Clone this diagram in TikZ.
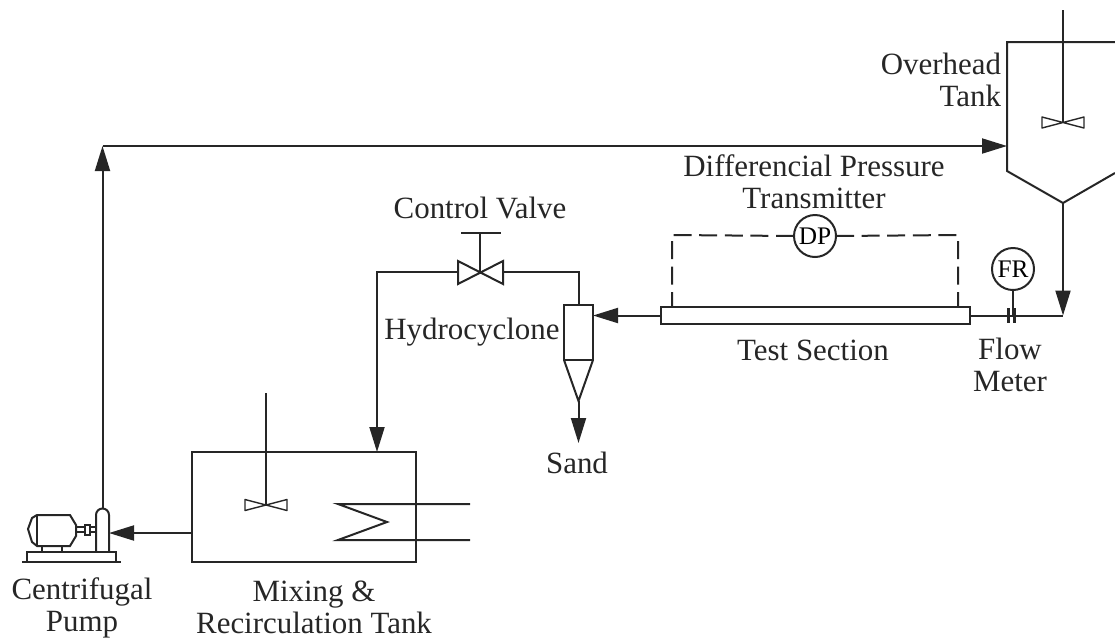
\documentclass[tikz,border=0pt]{standalone}
\usepackage{fontspec}
\setmainfont{Liberation Serif}
\usetikzlibrary{arrows.meta}
\tikzset{
  labeltext/.style={font=\fontsize{22}{22.7}\selectfont, text=black!85, align=center, inner sep=0pt},
  vessel/.style={draw, fill=white, inner sep=0pt, outer sep=0pt},
  instrument/.style={draw, circle, fill=white, minimum size=10.5mm, inner sep=0pt, outer sep=0pt, font=\fontsize{18}{18}\selectfont},
  signal/.style={dash pattern=on 4.5mm off 1.9mm},
  impeller/.pic={
    \draw[line width=0.35mm, line join=round] (-21,-5.5) -- (21,5.5) -- (21,-5.5) -- (-21,5.5) -- cycle;
  }
}
\begin{document}
\begin{tikzpicture}[x=0.25mm, y=-0.25mm, >={Triangle[length=6.25mm, width=3.75mm]}, line width=0.5mm, draw=black!85]
  \useasboundingbox (0,0) rectangle (1115,638);

  % Overhead tank
  \coordinate (ohtop) at (1007,42);
  \coordinate (ohside) at (1007,171);
  \coordinate (ohcone) at (1063,203);
  \draw (1115,42) -- (ohtop) -- (ohside) -- (ohcone) -- (1115,173);
  \coordinate (ohshaft) at (1063,10);
  \coordinate (ohblade) at (1063,122.5);
  \draw[line width=0.4mm] (ohshaft) -- (ohblade);
  \pic at (ohblade) {impeller};
  \node[labeltext, align=right, anchor=east] (ohlabel) at (1002,80) {Overhead\\Tank};

  % Mixing tank
  \node[vessel, minimum width=56mm, minimum height=27.5mm] (mixtank) at (304,507) {};
  \coordinate (mixshaft) at (266,393);
  \coordinate (mixblade) at (266,505);
  \draw[line width=0.4mm] (mixshaft) -- (mixblade);
  \pic at (mixblade) {impeller};
  % Heating coil
  \coordinate (coilin) at (470,504);
  \coordinate (coilout) at (470,540);
  \draw (coilin) -- (338,504) -- (387,522) -- (338,540) -- (coilout);
  \node[labeltext] (mixlabel) at (314,607.5) {Mixing \&\\Recirculation Tank};

  % Pump
  \draw (96,552) -- (96,515) arc (180:360:6.5) -- (109,552);
  \draw (37,515) -- (32,518) -- (28,529) -- (32,542) -- (37,546) -- (70,546) -- (76,536) -- (76,525) -- (70,515) -- cycle;
  \draw (37,515) -- (37,546);
  \draw (76,527) -- (96,527) (76,532) -- (96,532);
  \draw[fill=white] (85,525) rectangle (90,535);
  \draw (42,546) -- (42,552) (62,546) -- (62,552);
  \draw (27,562) -- (27,552) -- (116,552) -- (116,562);
  \draw (22,562) -- (121,562);
  \coordinate (pumpin) at (109,533);
  \coordinate (pumpout) at (102.5,508);
  \coordinate (corner) at (102.5,146);
  \node[labeltext] (pumplabel) at (82,607.5) {Centrifugal\\Pump};

  % Test section
  \node[vessel, minimum width=77.25mm, minimum height=4.25mm] (testsec) at (815.5,315.5) {};
  \node[labeltext] (testlabel) at (813,350) {Test Section};

  % Hydrocyclone
  \node[vessel, minimum width=7.25mm, minimum height=13.75mm] (cyclone) at (578.5,332.5) {};
  \coordinate (conetip) at (578.5,401);
  \draw (cyclone.south west) -- (conetip) -- (cyclone.south east);
  \coordinate (sandout) at (578.5,443);
  \node[labeltext] (cyclabel) at (472,332) {Hydrocyclone};
  \node[labeltext] (sandlabel) at (577,463) {Sand};

  % Control valve
  \coordinate (valve) at (480,272);
  \coordinate (valvel) at (458,272);
  \coordinate (valver) at (503,272);
  \coordinate (stem) at (480,233);
  \draw (458,261) -- (503,284) -- (503,261) -- (458,284) -- cycle;
  \draw (valve) -- (stem);
  \draw (461,233) -- (501,233);
  \node[labeltext] (valvelabel) at (480,208) {Control Valve};

  % DP transmitter
  \node[instrument] (dp) at (815,236) {DP};
  \coordinate (dpl) at (672,235);
  \coordinate (dpr) at (958,235);
  \draw[signal] (dp.west) -- (dpl) -- (dpl |- testsec.north);
  \draw[signal] (dp.east) -- (dpr) -- (dpr |- testsec.north);
  \node[labeltext] (dplabel) at (814,182) {Differencial Pressure\\Transmitter};

  % Flow meter
  \coordinate (bend) at (1063,315.5);
  \coordinate (orifice) at (1011.5,315.5);
  \node[instrument] (fr) at (1013,269) {FR};
  \draw (fr.south) -- (fr.south |- orifice);
  \draw (testsec.east) -- (bend);
  \draw[line width=0.6mm] (1008.5,308) -- (1008.5,323) (1014.5,308) -- (1014.5,323);
  \node[labeltext] (flowlabel) at (1010,365) {Flow\\Meter};

  % Process lines
  \draw[->] (ohcone) -- (bend);
  \draw[->] (testsec.west) -- (cyclone.east |- testsec.west);
  \draw[->] (conetip) -- (sandout);
  \draw (valver) -- (valver -| cyclone.north) -- (cyclone.north);
  \coordinate (mixin) at (377,272);
  \draw[->] (valvel) -- (mixin) -- (mixin |- mixtank.north);
  \draw[->] (mixtank.west |- pumpin) -- (pumpin);
  \draw[<-] (corner) -- (pumpout);
  \draw[->] (corner) -- (corner -| ohtop);
\end{tikzpicture}
\end{document}
